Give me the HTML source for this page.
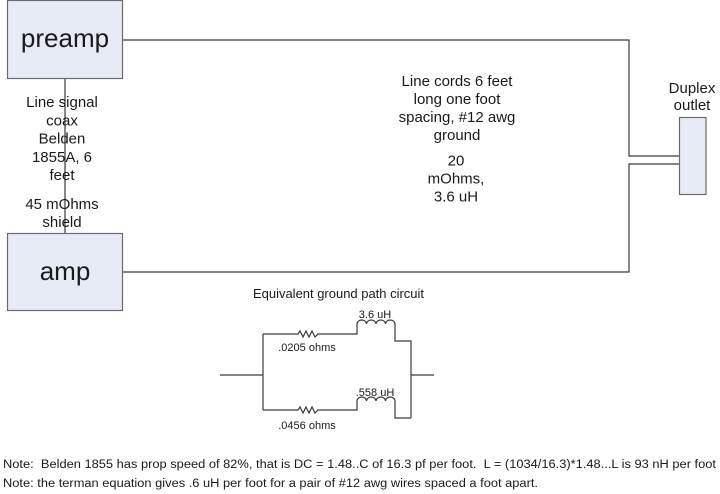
<!DOCTYPE html>
<html>
<head>
<meta charset="utf-8">
<style>
  html, body { margin:0; padding:0; background:#ffffff; }
  svg { display:block; }
  text { font-family: "Liberation Sans", Arial, sans-serif; fill:#1a1a1a; }
</style>
</head>
<body>
<svg width="720" height="494" viewBox="0 0 720 494" xmlns="http://www.w3.org/2000/svg">
  <!-- connectors -->
  <g stroke="#3a3a3a" stroke-width="1.2" fill="none">
    <line x1="65" y1="78" x2="65" y2="233"/>
    <polyline points="123,40 629,40 629,156 679,156"/>
    <polyline points="123,272 629,272 629,164 679,164"/>
  </g>

  <!-- boxes -->
  <rect x="7.5" y="0.5" width="115" height="78" fill="#e6ebf6" stroke="#6a6a6a" stroke-width="1.2"/>
  <rect x="7.5" y="233.5" width="115" height="77" fill="#e6ebf6" stroke="#6a6a6a" stroke-width="1.2"/>
  <rect x="679.5" y="117.5" width="26.5" height="77" fill="#e6ebf6" stroke="#6a6a6a" stroke-width="1.2"/>

  <text x="65" y="47" font-size="26" text-anchor="middle">preamp</text>
  <text x="65" y="280" font-size="26" text-anchor="middle">amp</text>

  <!-- left label -->
  <g font-size="15" text-anchor="middle">
    <text x="62" y="107">Line signal</text>
    <text x="62" y="125.5">coax</text>
    <text x="62" y="143.5">Belden</text>
    <text x="62" y="162">1855A, 6</text>
    <text x="62" y="180">feet</text>
    <text x="62" y="209">45 mOhms</text>
    <text x="62" y="227">shield</text>
  </g>

  <!-- middle label -->
  <g font-size="15" text-anchor="middle">
    <text x="457" y="86">Line cords 6 feet</text>
    <text x="457" y="104">long one foot</text>
    <text x="457" y="122">spacing, #12 awg</text>
    <text x="457" y="140">ground</text>
    <text x="456" y="165.5">20</text>
    <text x="456" y="183.5">mOhms,</text>
    <text x="456" y="201.5">3.6 uH</text>
  </g>

  <!-- duplex label -->
  <g font-size="15" text-anchor="middle">
    <text x="692" y="93">Duplex</text>
    <text x="692" y="110">outlet</text>
  </g>

  <!-- circuit title -->
  <text x="253" y="298" font-size="13" textLength="171" lengthAdjust="spacingAndGlyphs">Equivalent ground path circuit</text>

  <!-- circuit -->
  <g stroke="#3a3a3a" stroke-width="1.2" fill="none">
    <line x1="220" y1="375" x2="263" y2="375"/>
    <line x1="411" y1="375" x2="434" y2="375"/>
    <line x1="263" y1="334" x2="263" y2="410"/>
    <!-- top branch -->
    <polyline points="263,334 298,334 300,331 303,337 306,331 309,337 312,331 315,337 318,334 357,334 357,324"/>
    <path d="M357,324 a4.75,4 0 0 1 9.5,0 a4.75,4 0 0 1 9.5,0 a4.75,4 0 0 1 9.5,0 a4.75,4 0 0 1 9.5,0"/>
    <polyline points="395,324 395,341 411,341 411,418"/>
    <!-- bottom branch -->
    <polyline points="263,410 298,410 300,407 303,413 306,407 309,413 312,407 315,413 318,410 357,410 357,401"/>
    <path d="M357,401 a4.75,4 0 0 1 9.5,0 a4.75,4 0 0 1 9.5,0 a4.75,4 0 0 1 9.5,0 a4.75,4 0 0 1 9.5,0"/>
    <polyline points="395,401 395,418 411,418"/>
  </g>
  <g font-size="11" text-anchor="middle">
    <text x="375" y="318">3.6 uH</text>
    <text x="307" y="351">.0205 ohms</text>
    <text x="375" y="396">.558 uH</text>
    <text x="307" y="429">.0456 ohms</text>
  </g>

  <!-- notes -->
  <text x="3" y="468" font-size="11.5" textLength="713" lengthAdjust="spacingAndGlyphs" xml:space="preserve">Note:  Belden 1855 has prop speed of 82%, that is DC = 1.48..C of 16.3 pf per foot.  L = (1034/16.3)*1.48...L is 93 nH per foot</text>
  <text x="3" y="487" font-size="11.5" textLength="535" lengthAdjust="spacingAndGlyphs">Note: the terman equation gives .6 uH per foot for a pair of #12 awg wires spaced a foot apart.</text>
</svg>
</body>
</html>
